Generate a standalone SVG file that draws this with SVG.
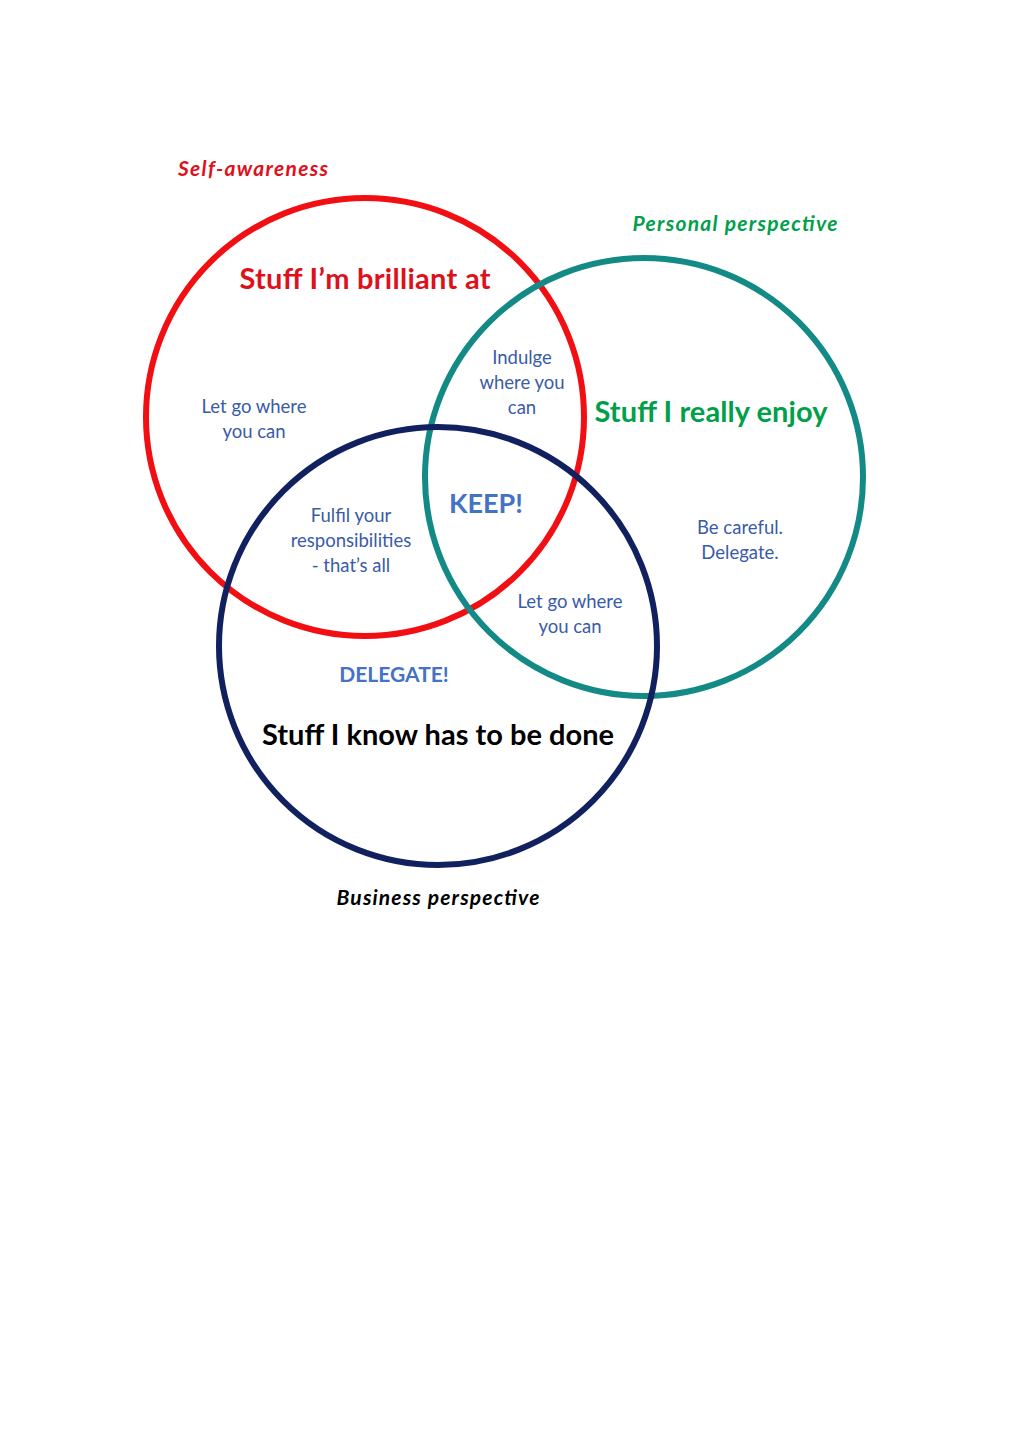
<svg xmlns="http://www.w3.org/2000/svg" width="1024" height="1448" viewBox="0 0 1024 1448">
<style>
text{font-family:Lato,"Carlito","Open Sans",sans-serif;text-anchor:middle}
.ring{fill:none;stroke-width:6}
.small{font-size:18.5px;fill:#3A5BA6}
.title{font-size:29px;font-weight:bold}
.label{font-size:21px;font-weight:bold;font-style:italic}
.big{font-weight:bold;fill:#4472C4}
</style>
<rect width="1024" height="1448" fill="#ffffff"/>
<g id="connectors"></g>
<g id="red-circle">
<circle class="ring" cx="365" cy="417" r="219" stroke="#F20F14"/>
</g>
<g id="teal-circle">
<circle class="ring" cx="644" cy="477" r="219" stroke="#138A85"/>
</g>
<g id="navy-circle">
<circle class="ring" cx="438" cy="646" r="219" stroke="#11215F"/>
</g>
<g id="self-awareness">
<text class="label" x="253" y="176" fill="#E0101A" textLength="150" lengthAdjust="spacing">Self-awareness</text>
<text class="title" x="365" y="289" fill="#E0101A" textLength="251" lengthAdjust="spacing">Stuff I’m brilliant at</text>
</g>
<g id="personal">
<text class="label" x="735" y="231" fill="#00A04A" textLength="205" lengthAdjust="spacing">Personal perspective</text>
<text class="title" x="711" y="422" fill="#00A04A" textLength="233" lengthAdjust="spacing">Stuff I really enjoy</text>
</g>
<g id="business">
<text class="title" x="438" y="745" fill="#000000" textLength="352" lengthAdjust="spacing">Stuff I know has to be done</text>
<text class="label" x="438" y="905" fill="#000000" textLength="203" lengthAdjust="spacing">Business perspective</text>
</g>
<g id="indulge">
<text class="small" x="522" y="364">Indulge</text>
<text class="small" x="522" y="389">where you</text>
<text class="small" x="522" y="414">can</text>
</g>
<g id="let-go-1">
<text class="small" x="254" y="413">Let go where</text>
<text class="small" x="254" y="438">you can</text>
</g>
<g id="keep">
<text class="big" x="486" y="513" font-size="27">KEEP!</text>
</g>
<g id="fulfil">
<text class="small" x="351" y="522">Fulfil your</text>
<text class="small" x="351" y="547">responsibilities</text>
<text class="small" x="351" y="572">- that’s all</text>
</g>
<g id="be-careful">
<text class="small" x="740" y="534">Be careful.</text>
<text class="small" x="740" y="559">Delegate.</text>
</g>
<g id="let-go-2">
<text class="small" x="570" y="608">Let go where</text>
<text class="small" x="570" y="633">you can</text>
</g>
<g id="delegate">
<text class="big" x="394" y="682" font-size="21">DELEGATE!</text>
</g>
</svg>
